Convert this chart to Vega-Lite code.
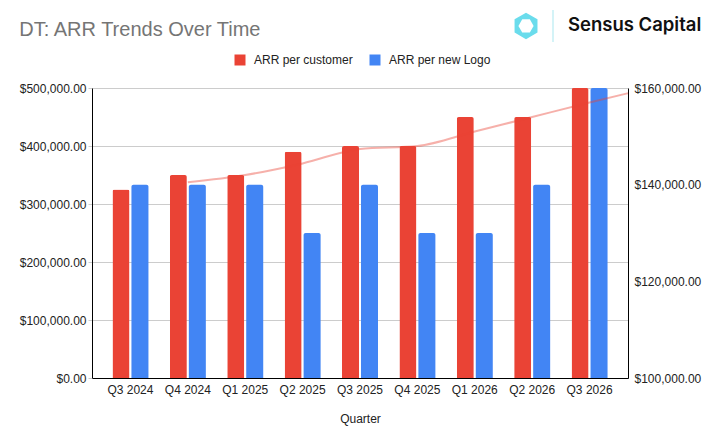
{
  "$schema": "https://vega.github.io/schema/vega-lite/v6.json",
  "width": 536,
  "height": 290,
  "autosize": {"type": "none"},
  "padding": {"left": 92, "top": 88, "right": 93, "bottom": 63},
  "title": {
    "text": "DT: ARR Trends Over Time",
    "anchor": "start",
    "frame": "bounds",
    "fontSize": 20,
    "fontWeight": "normal",
    "color": "#757575",
    "offset": -31
  },
  "config": {
    "font": "Liberation Sans",
    "view": {"stroke": null},
    "axis": {
      "labelFontSize": 12,
      "labelColor": "#222222",
      "titleFontSize": 12,
      "titleFontWeight": "normal",
      "titleColor": "#222222",
      "gridColor": "#cccccc",
      "domainColor": "#000000"
    }
  },
  "datasets": {
    "bars": [
      {"quarter": "Q3 2024", "series": "ARR per customer", "value": 325000},
      {"quarter": "Q4 2024", "series": "ARR per customer", "value": 350000},
      {"quarter": "Q1 2025", "series": "ARR per customer", "value": 350000},
      {"quarter": "Q2 2025", "series": "ARR per customer", "value": 390000},
      {"quarter": "Q3 2025", "series": "ARR per customer", "value": 400000},
      {"quarter": "Q4 2025", "series": "ARR per customer", "value": 400000},
      {"quarter": "Q1 2026", "series": "ARR per customer", "value": 450000},
      {"quarter": "Q2 2026", "series": "ARR per customer", "value": 450000},
      {"quarter": "Q3 2026", "series": "ARR per customer", "value": 500000},
      {"quarter": "Q3 2024", "series": "ARR per new Logo", "value": 140000},
      {"quarter": "Q4 2024", "series": "ARR per new Logo", "value": 140000},
      {"quarter": "Q1 2025", "series": "ARR per new Logo", "value": 140000},
      {"quarter": "Q2 2025", "series": "ARR per new Logo", "value": 130000},
      {"quarter": "Q3 2025", "series": "ARR per new Logo", "value": 140000},
      {"quarter": "Q4 2025", "series": "ARR per new Logo", "value": 130000},
      {"quarter": "Q1 2026", "series": "ARR per new Logo", "value": 130000},
      {"quarter": "Q2 2026", "series": "ARR per new Logo", "value": 140000},
      {"quarter": "Q3 2026", "series": "ARR per new Logo", "value": 160000}
    ],
    "trend": [
      {"idx": 1, "value": 337500},
      {"idx": 2, "value": 350000},
      {"idx": 3, "value": 370000},
      {"idx": 4, "value": 395000},
      {"idx": 5, "value": 400000},
      {"idx": 6, "value": 425000},
      {"idx": 7, "value": 450000},
      {"idx": 8, "value": 475000},
      {"idx": 8.67, "value": 491000}
    ],
    "brand": [
      {"name": "Sensus Capital"}
    ]
  },
  "layer": [
    {
      "data": {"name": "bars"},
      "transform": [{"filter": "datum.series === 'ARR per customer'"}],
      "mark": {"type": "bar", "cornerRadiusTopLeft": 2, "cornerRadiusTopRight": 2},
      "encoding": {
        "x": {
          "field": "quarter",
          "type": "nominal",
          "scale": {
            "domain": ["Q3 2024", "Q4 2024", "Q1 2025", "Q2 2025", "Q3 2025", "Q4 2025", "Q1 2026", "Q2 2026", "Q3 2026"],
            "paddingInner": 0,
            "paddingOuter": 0.17
          },
          "axis": {"title": "Quarter", "labelAngle": 0, "ticks": false, "labelPadding": 6, "titlePadding": 18}
        },
        "xOffset": {
          "field": "series",
          "scale": {"domain": ["ARR per customer", "ARR per new Logo"], "paddingInner": 0.105, "paddingOuter": 0.563}
        },
        "y": {
          "field": "value",
          "type": "quantitative",
          "scale": {"domain": [0, 500000]},
          "axis": {
            "orient": "left",
            "title": null,
            "format": "$,.2f",
            "values": [0, 100000, 200000, 300000, 400000, 500000],
            "grid": true,
            "tickColor": "#cccccc",
            "tickSize": 4,
            "labelPadding": 2
          }
        },
        "color": {
          "field": "series",
          "type": "nominal",
          "scale": {"domain": ["ARR per customer", "ARR per new Logo"], "range": ["#EA4335", "#4285F4"]},
          "legend": {
            "orient": "none",
            "legendX": 142,
            "legendY": -34,
            "direction": "horizontal",
            "title": null,
            "symbolType": "square",
            "symbolSize": 121,
            "symbolStrokeWidth": 0,
            "labelFontSize": 12,
            "labelColor": "#222222",
            "labelOffset": 8,
            "columnPadding": 16
          }
        }
      }
    },
    {
      "data": {"name": "bars"},
      "transform": [{"filter": "datum.series === 'ARR per new Logo'"}],
      "mark": {"type": "bar", "cornerRadiusTopLeft": 2, "cornerRadiusTopRight": 2},
      "encoding": {
        "x": {
          "field": "quarter",
          "type": "nominal",
          "scale": {
            "domain": ["Q3 2024", "Q4 2024", "Q1 2025", "Q2 2025", "Q3 2025", "Q4 2025", "Q1 2026", "Q2 2026", "Q3 2026"],
            "paddingInner": 0,
            "paddingOuter": 0.17
          },
          "axis": null
        },
        "xOffset": {
          "field": "series",
          "scale": {"domain": ["ARR per customer", "ARR per new Logo"], "paddingInner": 0.105, "paddingOuter": 0.563}
        },
        "y": {
          "field": "value",
          "type": "quantitative",
          "scale": {"domain": [100000, 160000], "zero": false, "nice": false},
          "axis": {
            "orient": "right",
            "title": null,
            "format": "$,.2f",
            "values": [100000, 120000, 140000, 160000],
            "grid": false,
            "ticks": false,
            "labelPadding": 6
          }
        },
        "y2": {"datum": 100000},
        "color": {
          "field": "series",
          "type": "nominal",
          "scale": {"domain": ["ARR per customer", "ARR per new Logo"], "range": ["#EA4335", "#4285F4"]}
        }
      }
    },
    {
      "layer": [
        {
          "data": {"name": "trend"},
          "mark": {"type": "line", "color": "#EA4335", "opacity": 0.42, "strokeWidth": 2, "interpolate": "monotone"},
          "encoding": {
            "x": {"field": "idx", "type": "quantitative", "scale": {"domain": [-0.67, 8.67], "nice": false, "zero": false}, "axis": null},
            "y": {"field": "value", "type": "quantitative", "scale": {"domain": [0, 500000]}, "axis": null}
          }
        },
        {
          "data": {"name": "brand"},
          "mark": {
            "type": "point",
            "shape": "M0,-1L0.866,-0.5L0.866,0.5L0,1L-0.866,0.5L-0.866,-0.5Z",
            "filled": true,
            "fill": "#6adcec",
            "strokeWidth": 0,
            "opacity": 1,
            "size": 700
          },
          "encoding": {
            "x": {"datum": 6.893},
            "y": {"datum": 607000}
          }
        },
        {
          "data": {"name": "brand"},
          "mark": {
            "type": "point",
            "shape": "M0,-1L0.866,-0.5L0.866,0.5L0,1L-0.866,0.5L-0.866,-0.5Z",
            "filled": true,
            "fill": "#ffffff",
            "strokeWidth": 0,
            "opacity": 1,
            "angle": 30,
            "size": 230
          },
          "encoding": {
            "x": {"datum": 6.893},
            "y": {"datum": 607000}
          }
        },
        {
          "data": {"name": "brand"},
          "mark": {"type": "rule", "color": "#c6eff5", "strokeWidth": 1.5},
          "encoding": {
            "x": {"datum": 7.363},
            "y": {"datum": 634500},
            "y2": {"datum": 579300}
          }
        },
        {
          "data": {"name": "brand"},
          "mark": {"type": "text", "align": "left", "baseline": "middle", "font": "Inter", "fontWeight": 600, "fontSize": 18.5, "color": "#111111"},
          "encoding": {
            "x": {"datum": 7.624},
            "y": {"datum": 608600},
            "text": {"field": "name"}
          }
        }
      ]
    }
  ],
  "resolve": {"scale": {"x": "independent", "y": "independent", "xOffset": "independent"}}
}
